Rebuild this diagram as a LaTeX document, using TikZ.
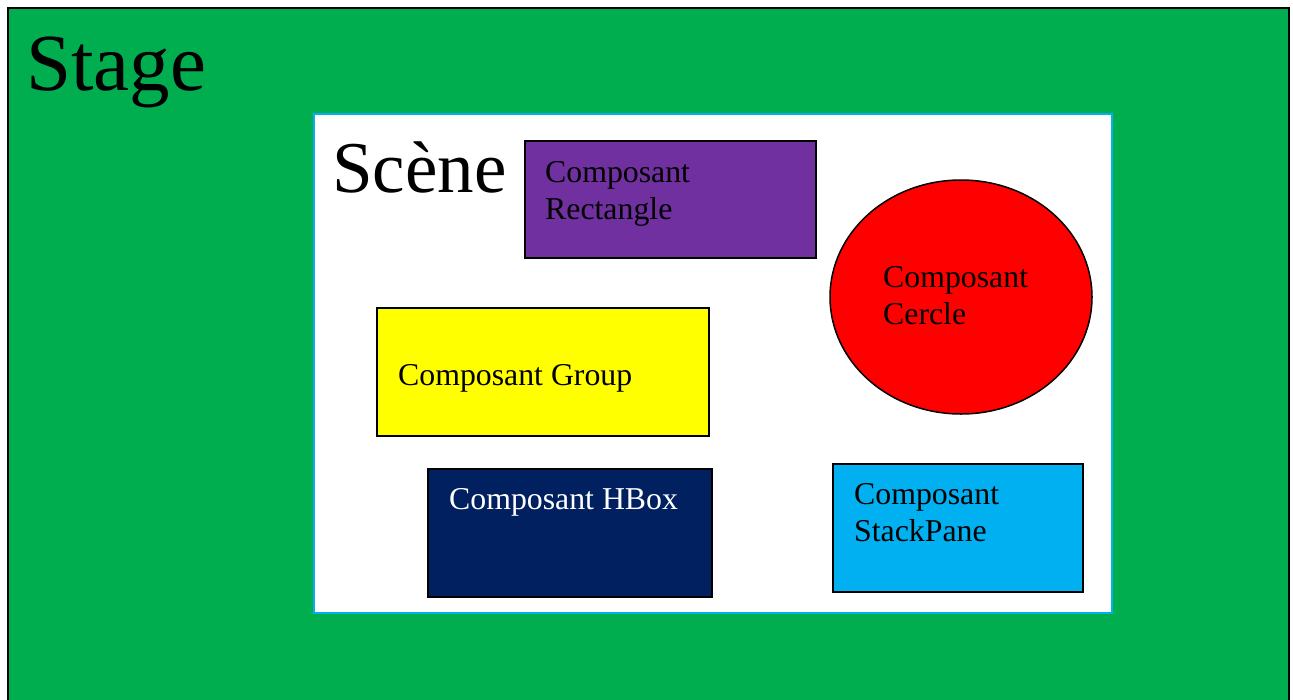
\documentclass[tikz,border=0pt]{standalone}
\usepackage{fontspec}
\setmainfont{Liberation Serif}
\definecolor{stagegreen}{HTML}{00AE4F}
\definecolor{scenebord}{HTML}{00B0F0}
\definecolor{rectpurple}{HTML}{7030A0}
\definecolor{navyblue}{HTML}{002060}
\definecolor{skyblue}{HTML}{00B0F0}
\definecolor{pureyellow}{HTML}{FFFF00}
\definecolor{purered}{HTML}{FF0000}
\tikzset{
  comp/.style={draw=black, line width=1.5pt},
  lbl/.style={inner sep=0pt, anchor=base west, font=\fontsize{31.8}{37}\selectfont, align=left},
  big/.style={inner sep=0pt, anchor=base west}
}
\begin{document}
\begin{tikzpicture}[x=1pt,y=-1pt]
\clip (0,0) rectangle (1293,699);
\fill[white] (0,0) rectangle (1293,699);
\draw[fill=stagegreen, draw=black, line width=2pt] (8,8) rectangle (1289,720);
\node[big, font=\fontsize{81}{82}\selectfont] (stage) at (26,90) {Stage};
\draw[fill=white, draw=scenebord, line width=2pt] (313.5,114) rectangle (1111.5,613);
\node[big, font=\fontsize{73}{74}\selectfont] (scene) at (332,192) {Scène};
% Rectangle
\draw[comp, fill=rectpurple] (525,141) rectangle (816,258);
\node[lbl] (trect1) at (545,182) {Composant};
\node[lbl] (trect2) at (545,219) {Rectangle};
% Circle
\draw[comp, fill=purered] (961,297) ellipse [x radius=131, y radius=117];
\node[lbl] (tcerc1) at (883,287) {Composant};
\node[lbl] (tcerc2) at (883,324) {Cercle};
% Group
\draw[comp, fill=pureyellow] (377,308) rectangle (709,436);
\node[lbl] (tgroup) at (398,385) {Composant Group};
% HBox
\draw[comp, fill=navyblue] (428,469) rectangle (712,597);
\node[lbl, text=white] (thbox) at (449,509) {Composant HBox};
% StackPane
\draw[comp, fill=skyblue] (833,464) rectangle (1083,592);
\node[lbl] (tstack1) at (854,504) {Composant};
\node[lbl] (tstack2) at (854,541) {StackPane};
\end{tikzpicture}
\end{document}
